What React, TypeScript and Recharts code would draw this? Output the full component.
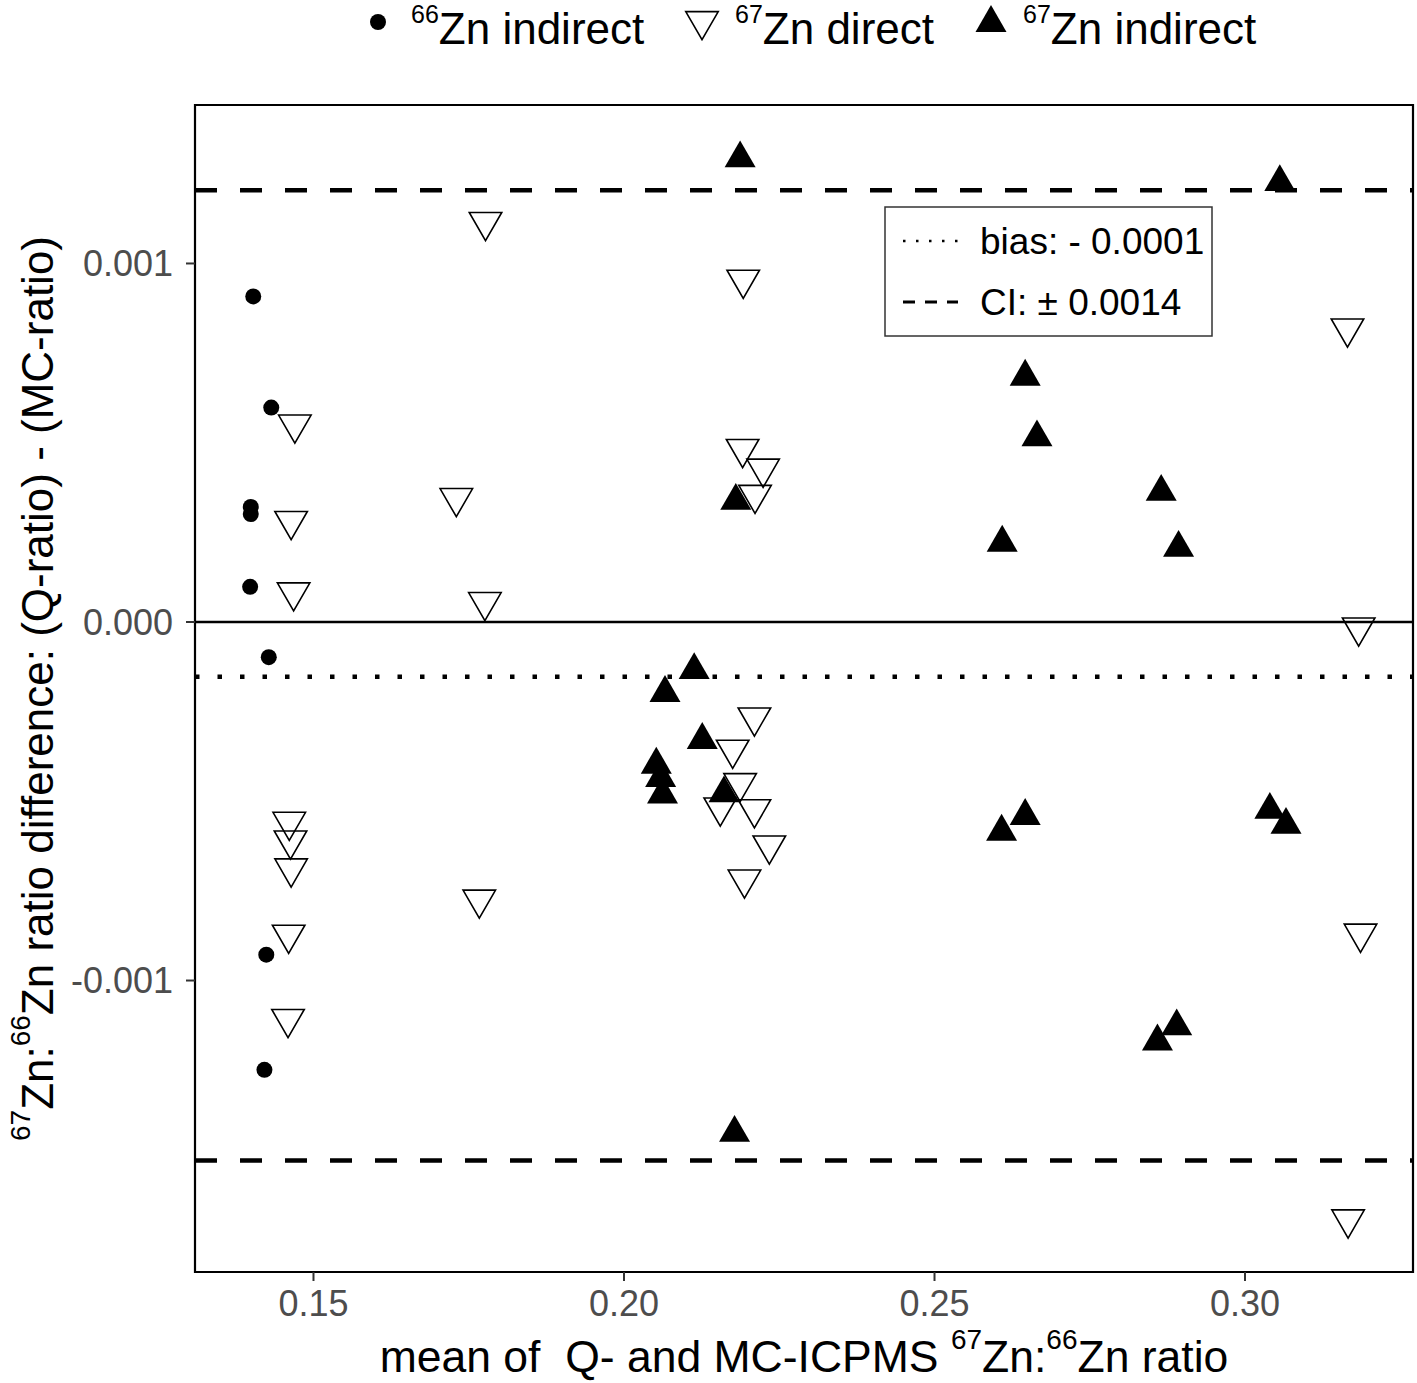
import React from 'react';
import {
  ScatterChart,
  Scatter,
  XAxis,
  YAxis,
  ReferenceLine,
  ReferenceArea,
  Legend,
  Customized,
} from 'recharts';

const FONT = '"Liberation Sans", Arial, Helvetica, sans-serif';

// 66Zn indirect (filled circles)
const zn66IndirectX = [0.1403, 0.1432, 0.1399, 0.1399, 0.1398, 0.1428, 0.1424, 0.1421];
const zn66IndirectY = [0.000908, 0.000598, 0.000321, 0.000301, 0.000098, -0.000098, -0.000928, -0.001249];

// 67Zn direct (open down triangles)
const zn67DirectX = [
  0.1777, 0.147, 0.173, 0.1464, 0.1468, 0.1776, 0.1461, 0.1463, 0.1464, 0.146, 0.1459, 0.1767,
  0.2192, 0.2191, 0.2224, 0.2211, 0.221, 0.2175, 0.2187, 0.2155, 0.221, 0.2234, 0.2194,
  0.3165, 0.3183, 0.3186, 0.3166,
];
const zn67DirectY = [
  0.001116, 0.000551, 0.000346, 0.000282, 0.000083, 0.000056, -0.000557, -0.000609, -0.000687, -0.000872, -0.001107, -0.000774,
  0.000955, 0.000483, 0.000428, 0.000355, -0.000266, -0.000356, -0.000449, -0.000517, -0.000522, -0.000623, -0.000718,
  0.000819, -0.000015, -0.000869, -0.001666,
];

// 67Zn indirect (filled up triangles)
const zn67IndirectX = [
  0.2187, 0.218, 0.2113, 0.2066, 0.2126, 0.2052, 0.2059, 0.2062, 0.2161, 0.2178,
  0.3056, 0.2646, 0.2665, 0.2865, 0.2609, 0.2893, 0.2608, 0.2646, 0.304, 0.3066, 0.2859, 0.289,
];
const zn67IndirectY = [
  0.001293, 0.000338, -0.000134, -0.000198, -0.000329, -0.000398, -0.000435, -0.000481, -0.000478, -0.001425,
  0.001227, 0.000684, 0.000515, 0.000363, 0.000221, 0.000207, -0.000585, -0.000541, -0.000524, -0.000566, -0.00117, -0.001128,
];

const seriesMass = ['66', '67', '67'];
const seriesLabel = ['Zn indirect', 'Zn direct', 'Zn indirect'];

const xTicks = [0.15, 0.2, 0.25, 0.3];
const yTicks = [-0.001, 0, 0.001];
const xDomain = [0.13092, 0.32705];
const yDomain = [-0.001813, 0.001442];

const bias = -0.000153;
const ciUpper = 0.001204;
const ciLower = -0.001502;
const biasText = 'bias: - 0.0001';
const ciText = 'CI: \u00b1 0.0014';

const zip = (xs: number[], ys: number[]) => xs.map((x, i) => ({ x, y: ys[i] }));

const zn66Indirect = zip(zn66IndirectX, zn66IndirectY);
const zn67Direct = zip(zn67DirectX, zn67DirectY);
const zn67Indirect = zip(zn67IndirectX, zn67IndirectY);

const H = Math.sqrt(3) / 2;

function dotPath(cx: number, cy: number) {
  return <circle cx={cx} cy={cy} r={8} fill="#000" />;
}
function upPath(cx: number, cy: number, s = 31) {
  const h = s * H;
  return <path d={`M${cx},${cy - (2 * h) / 3}L${cx + s / 2},${cy + h / 3}L${cx - s / 2},${cy + h / 3}Z`} fill="#000" />;
}
function downPath(cx: number, cy: number, s = 32.5) {
  const h = s * H;
  return (
    <path
      d={`M${cx - s / 2},${cy - h / 3}L${cx + s / 2},${cy - h / 3}L${cx},${cy + (2 * h) / 3}Z`}
      fill="none"
      stroke="#000"
      strokeWidth={1.6}
      strokeLinejoin="miter"
    />
  );
}

const markers = [dotPath, downPath, upPath];

function TopLegend() {
  // marker centre, text start
  const items = [
    { mx: 378, my: 22, tx: 411 },
    { mx: 702, my: 21, tx: 735 },
    { mx: 991, my: 23, tx: 1023 },
  ];
  return (
    <svg width={1417} height={60} style={{ display: 'block' }}>
      {items.map((it, i) => (
        <g key={i}>
          {markers[i](it.mx, it.my)}
          <text x={it.tx} y={44} fontSize={44} fontFamily={FONT} fill="#000">
            <tspan fontSize={25} dy={-21}>
              {seriesMass[i]}
            </tspan>
            <tspan dy={21}>{seriesLabel[i]}</tspan>
          </text>
        </g>
      ))}
    </svg>
  );
}

function BiasKey() {
  return (
    <g fontFamily={FONT}>
      <rect x={885} y={207} width={327} height={129} fill="#fff" stroke="#333" strokeWidth={1.5} />
      <line x1={903} x2={960} y1={241} y2={241} stroke="#000" strokeWidth={2.5} strokeDasharray="2.5 10.5" />
      <text x={980} y={254} fontSize={37} fill="#000">
        {biasText}
      </text>
      <line x1={903} x2={958} y1={302} y2={302} stroke="#000" strokeWidth={3} strokeDasharray="12 10" />
      <text x={980} y={315} fontSize={37} fill="#000">
        {ciText}
      </text>
    </g>
  );
}

function YTitle(props: any) {
  const vb = props.viewBox || { x: 0, y: 105, width: 195, height: 1167 };
  const cx = vb.x + 53;
  const cy = vb.y + vb.height / 2;
  return (
    <text
      transform={`rotate(-90 ${cx} ${cy})`}
      x={cx}
      y={cy}
      textAnchor="middle"
      fontSize={44}
      fontFamily={FONT}
      fill="#000"
    >
      <tspan fontSize={28} dy={-23}>67</tspan>
      <tspan dy={23}>Zn:</tspan>
      <tspan fontSize={28} dy={-23}>66</tspan>
      <tspan dy={23}>Zn ratio difference: (Q-ratio) - (MC-ratio)</tspan>
    </text>
  );
}

function XTitle(props: any) {
  const vb = props.viewBox || { x: 195, y: 1272, width: 1218, height: 111 };
  const cx = vb.x + vb.width / 2;
  const cy = vb.y + 100;
  return (
    <text x={cx} y={cy} textAnchor="middle" fontSize={44.5} fontFamily={FONT} fill="#000" style={{ whiteSpace: 'pre' }}>
      <tspan>{'mean of  Q- and MC-ICPMS '}</tspan>
      <tspan fontSize={28} dy={-23}>67</tspan>
      <tspan dy={23}>Zn:</tspan>
      <tspan fontSize={28} dy={-23}>66</tspan>
      <tspan dy={23}>Zn ratio</tspan>
    </text>
  );
}

const tickStyle = { fill: '#4D4D4D', fontSize: 36, fontFamily: FONT };
const tickLine = { stroke: '#333', strokeWidth: 2 };

export default function App() {
  return (
    <div style={{ position: 'absolute', left: 0, top: 0, background: '#fff' }}>
      <ScatterChart width={1417} height={1383} margin={{ top: 105, right: 4, bottom: 0, left: 0 }}>
        <XAxis
          type="number"
          dataKey="x"
          domain={xDomain}
          ticks={xTicks}
          allowDataOverflow
          height={111}
          tick={tickStyle}
          tickLine={tickLine}
          tickSize={9}
          tickMargin={9}
          axisLine={false}
          tickFormatter={(v: number) => v.toFixed(2)}
          label={{ content: XTitle }}
        />
        <YAxis
          type="number"
          dataKey="y"
          domain={yDomain}
          ticks={yTicks}
          allowDataOverflow
          width={195}
          tick={tickStyle}
          tickLine={tickLine}
          tickSize={9}
          tickMargin={13}
          axisLine={false}
          tickFormatter={(v: number) => v.toFixed(3)}
          label={{ content: YTitle }}
        />
        <ReferenceArea
          x1={xDomain[0]}
          x2={xDomain[1]}
          y1={yDomain[0]}
          y2={yDomain[1]}
          fill="none"
          fillOpacity={0}
          stroke="#000"
          strokeWidth={2.2}
          ifOverflow="visible"
        />
        <ReferenceLine y={0} stroke="#000" strokeWidth={2.5} />
        <ReferenceLine y={bias} stroke="#000" strokeWidth={4.5} strokeDasharray="4.5 18" />
        <ReferenceLine y={ciUpper} stroke="#000" strokeWidth={4.5} strokeDasharray="22 23" />
        <ReferenceLine y={ciLower} stroke="#000" strokeWidth={4.5} strokeDasharray="22 23" />
        <Scatter
          name="66Zn indirect"
          data={zn66Indirect}
          isAnimationActive={false}
          shape={(p: any) => dotPath(p.cx, p.cy)}
        />
        <Scatter
          name="67Zn direct"
          data={zn67Direct}
          isAnimationActive={false}
          shape={(p: any) => downPath(p.cx, p.cy)}
        />
        <Scatter
          name="67Zn indirect"
          data={zn67Indirect}
          isAnimationActive={false}
          shape={(p: any) => upPath(p.cx, p.cy)}
        />
        <Customized component={BiasKey} />
        <Legend
          layout="horizontal"
          verticalAlign="middle"
          align="center"
          content={() => <TopLegend />}
          wrapperStyle={{ top: 0, left: 0, width: 1417, height: 60 }}
        />
      </ScatterChart>
    </div>
  );
}
